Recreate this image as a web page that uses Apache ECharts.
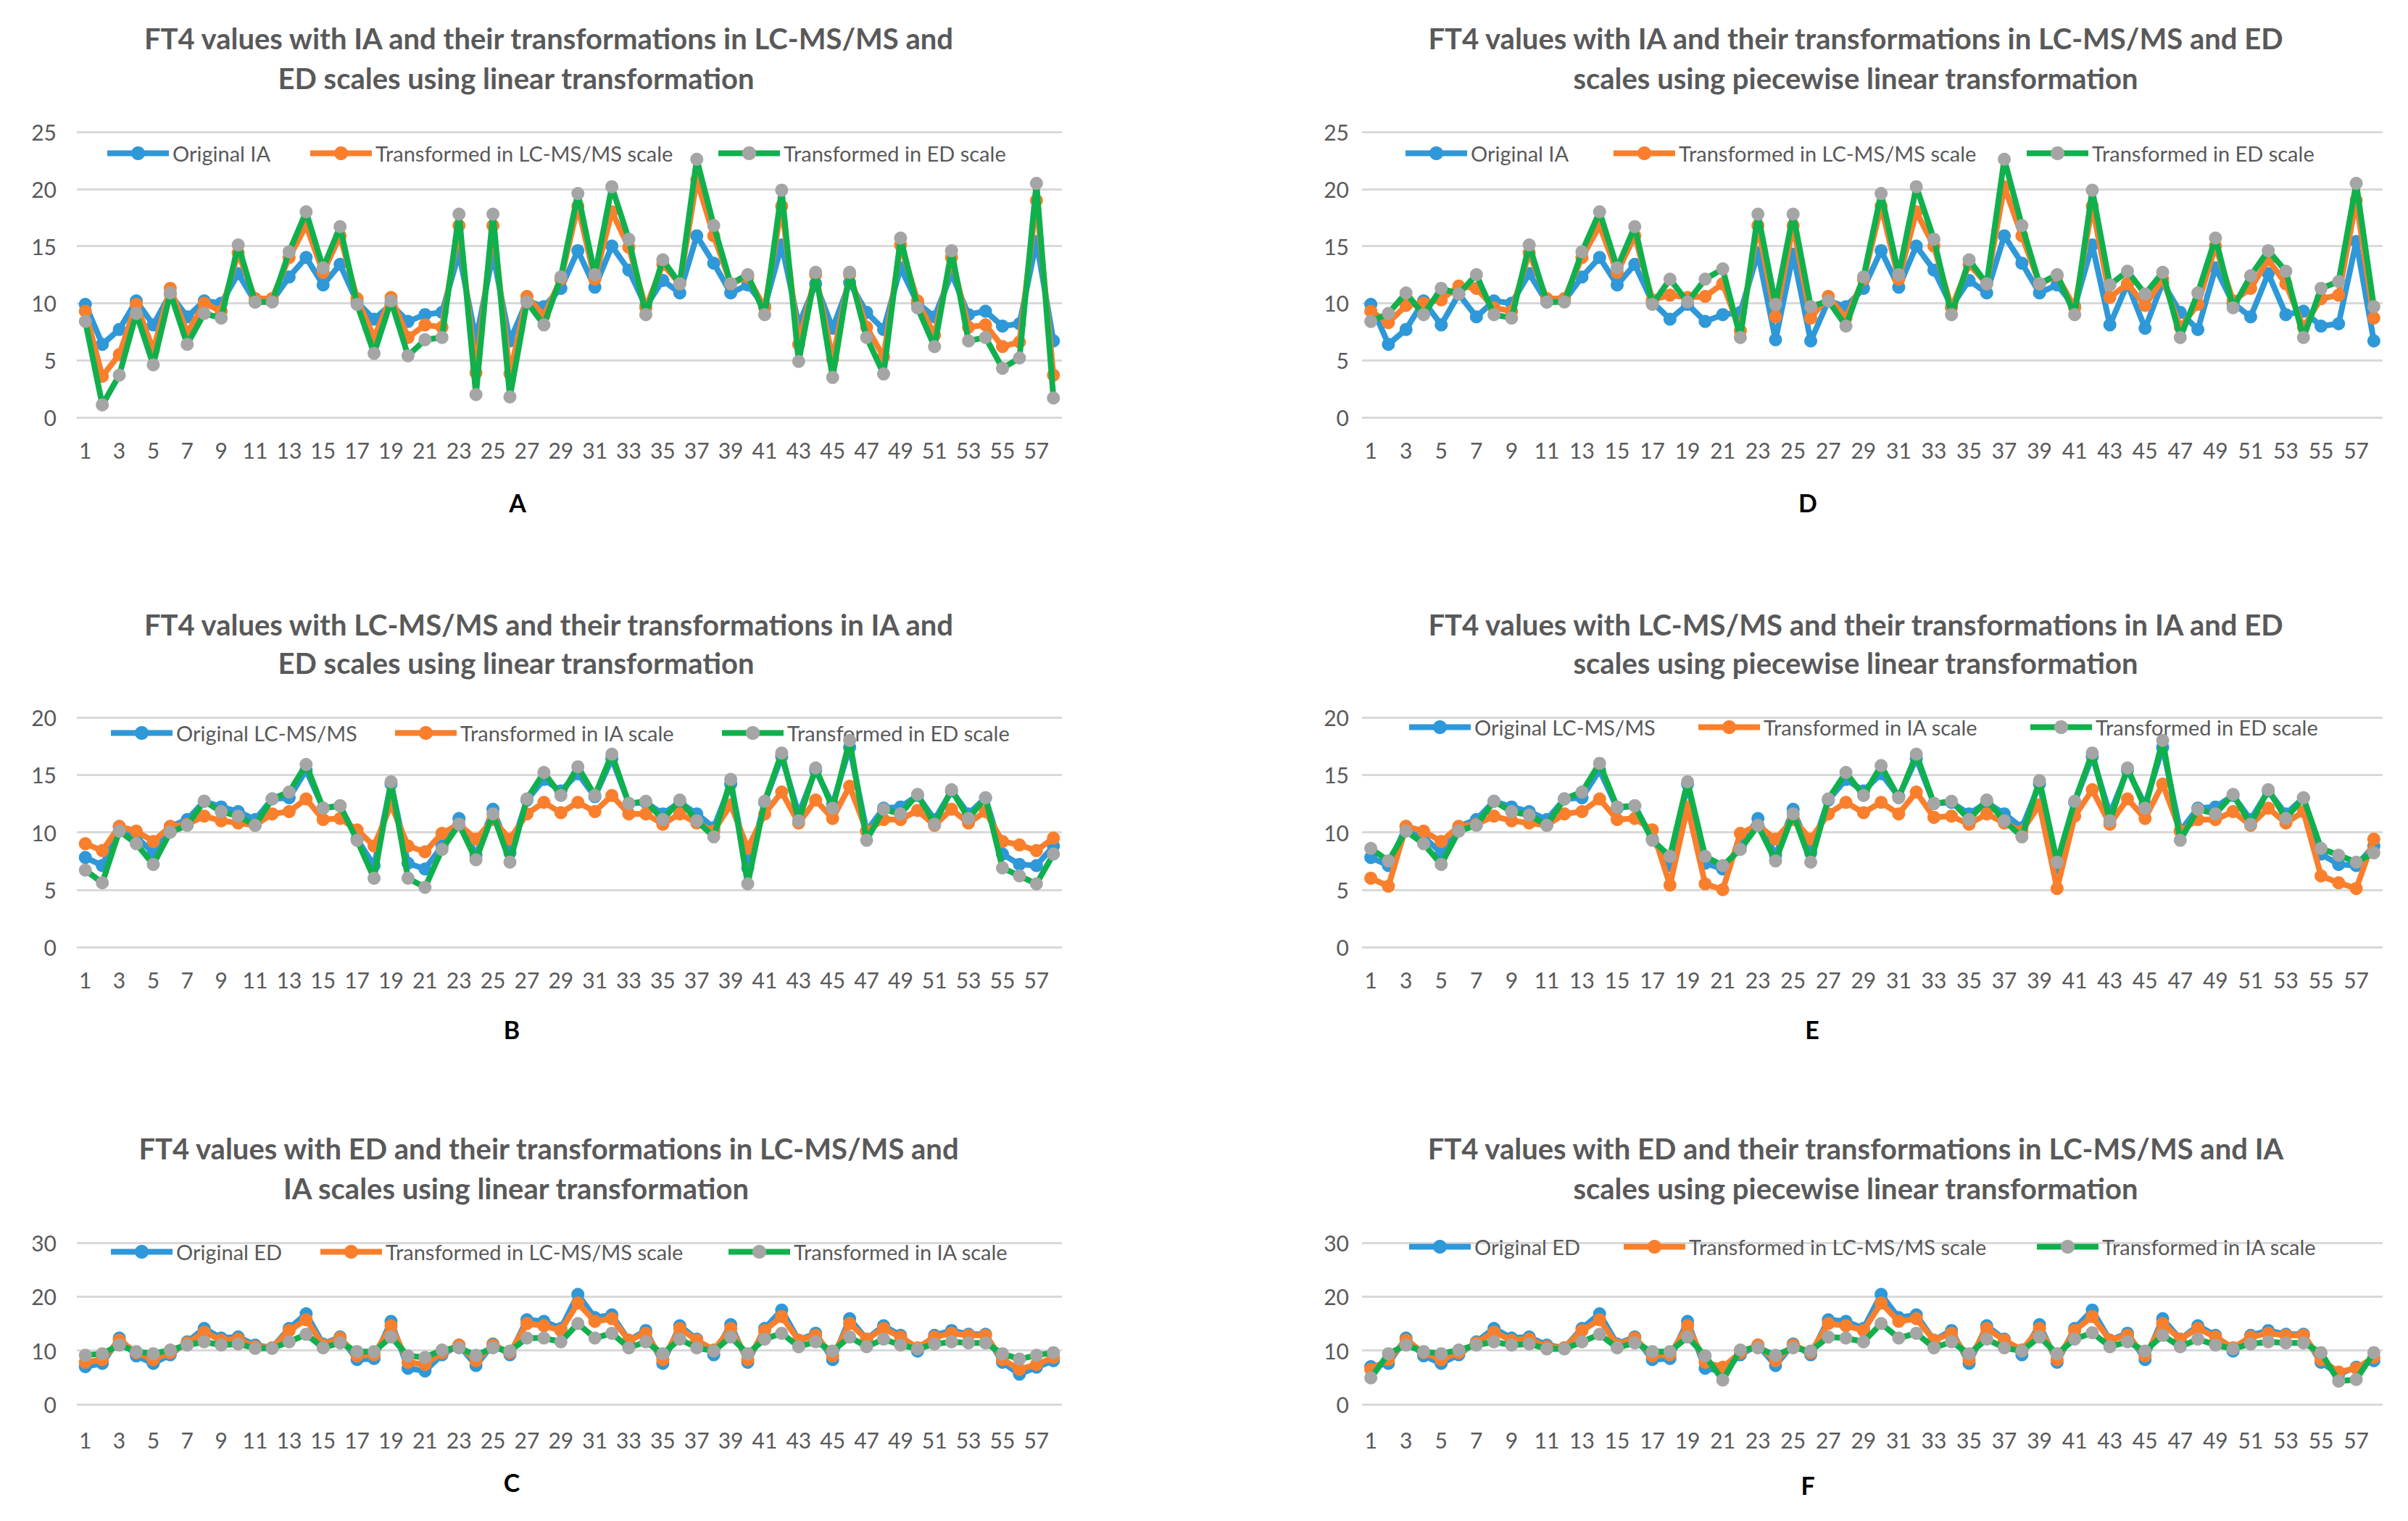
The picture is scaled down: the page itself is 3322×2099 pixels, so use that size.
<!DOCTYPE html>
<html><head><meta charset="utf-8">
<script src="https://cdn.jsdelivr.net/npm/echarts@6/dist/echarts.min.js"></script>
<style>html,body{margin:0;padding:0;background:#fff}#c{width:3322px;height:2099px}</style>
</head><body><div id="c"></div>
<script>
const categories = ['1','2','3','4','5','6','7','8','9','10','11','12','13','14','15','16','17','18','19','20','21','22','23','24','25','26','27','28','29','30','31','32','33','34','35','36','37','38','39','40','41','42','43','44','45','46','47','48','49','50','51','52','53','54','55','56','57','58'];

// Original values
const origIA = [9.9,6.4,7.7,10.2,8.1,10.8,8.8,10.2,10.0,12.6,10.1,10.2,12.3,14.0,11.6,13.4,10.1,8.6,9.9,8.4,9.0,9.2,14.4,6.8,14.3,6.7,10.2,9.7,11.3,14.6,11.4,15.0,12.9,9.7,12.0,10.9,15.9,13.5,10.9,11.6,9.7,15.1,8.1,11.7,7.8,11.8,9.2,7.7,13.1,10.0,8.8,12.6,9.0,9.3,8.0,8.2,15.4,6.7];
const origLC = [7.8,7.1,10.5,9.6,8.2,10.5,11.1,12.7,12.2,11.8,11.1,12.9,13.0,15.4,12.1,12.3,9.4,7.1,14.2,7.3,6.8,8.8,11.2,8.0,12.0,8.2,12.8,14.6,13.6,15.1,13.1,16.4,12.5,12.6,11.6,12.6,11.6,10.4,14.2,6.9,12.6,16.6,11.6,15.4,12.4,17.4,10.1,12.1,12.2,13.2,11.1,13.6,11.6,13.0,8.1,7.2,7.1,8.8];
const origED = [7.0,7.6,12.3,9.0,7.6,9.2,11.6,14.1,12.3,12.5,11.0,10.5,14.1,16.8,11.2,12.5,8.3,8.5,15.4,6.7,6.2,9.2,11.0,7.2,11.2,9.2,15.7,15.4,14.1,20.4,16.1,16.6,11.9,13.7,7.6,14.6,12.1,9.2,14.8,7.8,14.1,17.5,11.9,13.2,8.3,15.9,12.1,14.6,12.8,9.9,12.8,13.7,13.0,13.0,7.8,5.6,6.9,8.1];

// Panel A (linear) : IA -> LC-MS/MS, IA -> ED
const aLC = [9.3,3.6,5.5,9.9,5.9,11.3,7.4,10.0,9.3,14.4,10.4,10.4,14.0,16.8,12.7,15.9,10.4,7.0,10.5,7.0,8.1,7.9,16.8,3.9,16.8,3.8,10.6,8.9,12.1,18.5,12.1,18.0,14.9,9.6,13.4,11.7,20.8,15.9,11.7,12.3,9.6,18.5,6.4,12.5,5.1,12.5,7.9,5.3,15.1,10.2,7.2,14.0,7.9,8.1,6.2,6.6,19.0,3.7];
const aED = [8.4,1.1,3.7,9.1,4.6,10.9,6.4,9.1,8.7,15.1,10.1,10.1,14.5,18.0,13.1,16.7,9.9,5.6,10.2,5.4,6.8,7.0,17.8,2.0,17.8,1.8,10.1,8.1,12.3,19.6,12.5,20.2,15.6,9.0,13.8,11.7,22.6,16.8,11.7,12.5,9.0,19.9,4.9,12.7,3.5,12.7,7.0,3.8,15.7,9.6,6.2,14.6,6.7,7.0,4.3,5.2,20.5,1.7];
// Panel D (piecewise) : IA -> LC-MS/MS, IA -> ED
const dLC = [9.3,8.3,9.8,10.0,10.3,11.5,11.3,9.6,9.3,14.4,10.4,10.4,14.0,16.8,12.7,15.9,10.3,10.7,10.5,10.6,11.7,7.6,16.8,8.8,16.8,8.7,10.6,8.7,12.1,18.5,12.1,18.0,15.0,9.6,13.4,11.7,20.2,15.9,11.7,12.4,9.6,18.5,10.5,11.7,9.8,12.1,7.9,9.9,15.0,10.2,11.3,13.8,11.7,7.9,10.4,10.7,19.0,8.7];
const dED = [8.4,9.1,10.9,9.0,11.3,10.8,12.5,9.0,8.7,15.1,10.1,10.1,14.5,18.0,13.1,16.7,9.9,12.1,10.1,12.1,13.0,7.0,17.8,9.9,17.8,9.7,10.2,8.0,12.3,19.6,12.5,20.2,15.6,9.0,13.8,11.7,22.6,16.8,11.7,12.5,9.0,19.9,11.6,12.8,10.8,12.7,7.0,10.9,15.7,9.6,12.4,14.6,12.8,7.0,11.3,11.9,20.5,9.7];
// Panel B (linear) : LC-MS/MS -> IA, LC-MS/MS -> ED
const bIA = [9.0,8.4,10.5,10.1,9.2,10.5,10.7,11.4,11.0,10.8,10.6,11.6,11.8,12.9,11.1,11.2,10.2,8.8,12.4,8.8,8.3,9.9,10.7,9.4,11.1,9.4,11.6,12.6,11.7,12.6,11.8,13.2,11.6,11.6,10.7,11.6,10.8,10.1,12.4,8.6,11.6,13.5,10.8,12.8,11.2,14.0,10.1,11.1,11.1,11.9,10.6,12.0,10.8,11.8,9.2,8.9,8.4,9.5];
const bED = [6.7,5.6,10.1,9.0,7.2,10.0,10.6,12.7,11.8,11.4,10.6,12.9,13.5,15.9,12.1,12.3,9.3,6.0,14.4,6.0,5.2,8.5,10.7,7.6,11.6,7.4,12.9,15.2,13.2,15.7,13.2,16.8,12.5,12.7,11.1,12.8,11.0,9.6,14.6,5.5,12.7,16.9,11.0,15.6,12.1,18.0,9.3,12.0,11.6,13.3,10.7,13.7,11.2,13.0,6.9,6.2,5.5,8.1];
// Panel E (piecewise) : LC-MS/MS -> IA, LC-MS/MS -> ED
const eIA = [6.0,5.3,10.5,10.1,9.2,10.5,10.7,11.4,11.0,10.8,10.6,11.6,11.8,12.9,11.1,11.2,10.2,5.4,12.2,5.5,5.0,9.9,10.6,9.4,11.1,9.4,11.6,12.6,11.7,12.6,11.6,13.5,11.3,11.4,10.7,11.6,10.8,10.1,12.4,5.1,11.4,13.7,10.7,12.9,11.2,14.2,10.1,11.1,11.1,11.8,10.6,12.1,10.8,11.8,6.2,5.6,5.1,9.4];
const eED = [8.6,7.5,10.1,9.0,7.2,10.1,10.6,12.7,11.8,11.5,10.6,12.9,13.5,16.0,12.2,12.3,9.3,7.9,14.4,7.9,7.1,8.5,10.6,7.5,11.6,7.4,12.9,15.2,13.2,15.8,13.0,16.8,12.5,12.7,11.1,12.8,11.0,9.6,14.5,7.4,12.7,16.9,11.0,15.6,12.1,18.0,9.3,12.0,11.6,13.3,10.7,13.7,11.2,13.0,8.6,8.0,7.4,8.2];
// Panel C (linear) : ED -> LC-MS/MS, ED -> IA
const cLC = [7.8,8.3,11.9,9.6,8.3,9.6,11.4,13.4,11.9,12.1,10.7,10.5,13.7,15.7,11.0,12.3,9.0,9.2,14.6,7.8,7.4,9.6,11.0,8.1,11.0,9.6,15.0,14.6,13.7,18.8,15.4,15.9,11.9,13.2,8.3,14.1,11.9,10.1,14.1,8.3,13.7,16.3,11.9,12.8,9.0,15.0,12.1,14.1,12.5,10.5,12.5,13.2,12.8,12.8,8.3,6.5,7.4,8.7];
const cIA = [9.1,9.4,11.0,9.8,9.4,10.1,11.0,11.6,11.0,11.2,10.4,10.4,11.6,13.0,10.5,11.4,9.8,9.8,12.5,9.0,8.7,10.1,10.5,9.1,10.5,9.9,12.3,12.3,11.6,15.0,12.3,13.2,10.5,11.6,9.4,12.1,10.5,9.9,12.5,9.4,12.1,13.2,10.7,11.6,9.9,12.5,10.7,12.1,11.0,10.3,11.2,11.6,11.4,11.4,9.4,8.4,9.1,9.6];
// Panel F (piecewise) : ED -> LC-MS/MS, ED -> IA
const fLC = [6.5,8.3,11.9,9.6,8.3,9.6,11.4,13.4,11.9,12.1,10.7,10.5,13.7,15.7,11.0,12.3,9.0,9.2,14.6,7.8,6.9,9.6,11.0,8.1,11.0,9.6,15.0,14.6,13.7,18.8,15.4,15.9,11.9,13.2,8.3,14.1,11.9,10.1,14.1,8.3,13.7,16.3,11.9,12.8,9.0,15.0,12.1,14.1,12.5,10.5,12.5,13.2,12.8,12.8,8.3,6.0,6.7,8.7];
const fIA = [4.9,9.4,11.0,9.8,9.4,10.1,11.0,11.6,11.0,11.2,10.3,10.3,11.6,13.0,10.5,11.4,9.8,9.8,12.5,9.0,4.5,10.1,10.5,9.1,10.5,9.9,12.5,12.3,11.6,15.0,12.3,13.2,10.5,11.6,9.4,12.1,10.5,9.9,12.5,9.4,12.1,13.3,10.7,11.6,9.9,12.8,10.7,12.1,11.0,10.3,11.2,11.6,11.4,11.4,9.6,4.3,4.6,9.6];

const namesA = ['Original IA','Transformed in LC-MS/MS scale','Transformed in ED scale'];
const namesB = ['Original LC-MS/MS','Transformed in IA scale','Transformed in ED scale'];
const namesC = ['Original ED','Transformed in LC-MS/MS scale','Transformed in IA scale'];

const titlesA = ['FT4 values with IA and their transformations in LC-MS/MS and','ED scales using linear transformation'];
const titlesB = ['FT4 values with LC-MS/MS and their transformations in IA and','ED scales using linear transformation'];
const titlesC = ['FT4 values with ED and their transformations in LC-MS/MS and','IA scales using linear transformation'];
const titlesD = ['FT4 values with IA and their transformations in LC-MS/MS and ED','scales using piecewise linear transformation'];
const titlesE = ['FT4 values with LC-MS/MS and their transformations in IA and ED','scales using piecewise linear transformation'];
const titlesF = ['FT4 values with ED and their transformations in LC-MS/MS and IA','scales using piecewise linear transformation'];

const BLUE = '#2E98D8', ORANGE = '#F97F2C', GREEN = '#10B04C', GRAY = '#A5A5A5', TXT = '#595959';
const FONT = 'Lato, "Noto Sans", sans-serif';

const panels = [
  {k:'A', names:namesA, data:[origIA,aLC,aED], titles:titlesA, left:106, width:1359, top:182, height:394, max:25, step:5, ylm:28, xlm:30,
   t1x:757, t2x:712, t1y:53, t2y:108, lx:714, ly:693, leg:[144,424,987], legY:213},
  {k:'B', names:namesB, data:[origLC,bIA,bED], titles:titlesB, left:106, width:1359, top:990, height:317, max:20, step:5, ylm:28, xlm:30,
   t1x:757, t2x:712, t1y:862, t2y:915, lx:706, ly:1420, leg:[149,541,992], legY:1013},
  {k:'C', names:namesC, data:[origED,cLC,cIA], titles:titlesC, left:106, width:1359, top:1715, height:223, max:30, step:10, ylm:28, xlm:34,
   t1x:757, t2x:712, t1y:1585, t2y:1640, lx:706, ly:2045, leg:[149,438,1001], legY:1729},
  {k:'D', names:namesA, data:[origIA,dLC,dED], titles:titlesD, left:1879, width:1408, top:182, height:394, max:25, step:5, ylm:18, xlm:30,
   t1x:2560, t2x:2560, t1y:53, t2y:108, lx:2494, ly:693, leg:[1935,2222,2792], legY:213},
  {k:'E', names:namesB, data:[origLC,eIA,eED], titles:titlesE, left:1879, width:1408, top:990, height:317, max:20, step:5, ylm:18, xlm:30,
   t1x:2560, t2x:2560, t1y:862, t2y:915, lx:2500, ly:1420, leg:[1940,2339,2797], legY:1005},
  {k:'F', names:namesC, data:[origED,fLC,fIA], titles:titlesF, left:1879, width:1408, top:1715, height:223, max:30, step:10, ylm:18, xlm:34,
   t1x:2560, t2x:2560, t1y:1585, t2y:1640, lx:2494, ly:2049, leg:[1940,2236,2806], legY:1722}
];

const lineCols = [BLUE, ORANGE, GREEN];
const markCols = [BLUE, ORANGE, GRAY];

const grid = [], xAxis = [], yAxis = [], series = [], legend = [], graphic = [];
panels.forEach((p, i) => {
  grid.push({left:p.left, top:p.top, width:p.width, height:p.height, containLabel:false});
  xAxis.push({type:'category', gridIndex:i, data:categories, boundaryGap:true,
    axisLine:{show:false}, axisTick:{show:false},
    axisLabel:{interval:1, margin:p.xlm, fontSize:30, color:TXT, fontFamily:FONT}});
  yAxis.push({type:'value', gridIndex:i, min:0, max:p.max, interval:p.step,
    axisLine:{show:false}, axisTick:{show:false},
    axisLabel:{margin:p.ylm, fontSize:30, color:TXT, fontFamily:FONT},
    splitLine:{show:true, lineStyle:{color:'#D9D9D9', width:3}}});
  p.names.forEach((n, j) => {
    const sname = p.k + '|' + n;
    series.push({type:'line', name:sname, xAxisIndex:i, yAxisIndex:i, data:p.data[j],
      symbol:'circle', symbolSize:18, showSymbol:true, showAllSymbol:true,
      lineStyle:{width:8, color:lineCols[j]},
      itemStyle:{color:markCols[j], borderWidth:0},
      emphasis:{disabled:true}, animation:false, z:2+j});
    legend.push({left:p.leg[j], top:p.legY-16, padding:0, data:[sname], itemWidth:85, itemHeight:24,
      formatter:(nm)=>nm.split('|')[1], selectedMode:false,
      lineStyle:{width:8, color:lineCols[j]},
      itemStyle:{color:markCols[j], borderWidth:0},
      textStyle:{fontSize:29, color:TXT, fontFamily:FONT, padding:[0,0,0,0]}});
  });
  graphic.push({type:'text', x:p.t1x, y:p.t1y, style:{text:p.titles[0], fill:TXT, font:'bold 40px ' + FONT, textAlign:'center', textVerticalAlign:'middle'}});
  graphic.push({type:'text', x:p.t2x, y:p.t2y, style:{text:p.titles[1], fill:TXT, font:'bold 40px ' + FONT, textAlign:'center', textVerticalAlign:'middle'}});
  graphic.push({type:'text', x:p.lx, y:p.ly, style:{text:p.k, fill:'#000', font:'bold 34px ' + FONT, textAlign:'center', textVerticalAlign:'middle'}});
});

const chart = echarts.init(document.getElementById('c'), null, {renderer:'svg', width:3322, height:2099});
chart.setOption({backgroundColor:'#fff', animation:false, grid, xAxis, yAxis, series, legend, graphic});
</script>
</body></html>
